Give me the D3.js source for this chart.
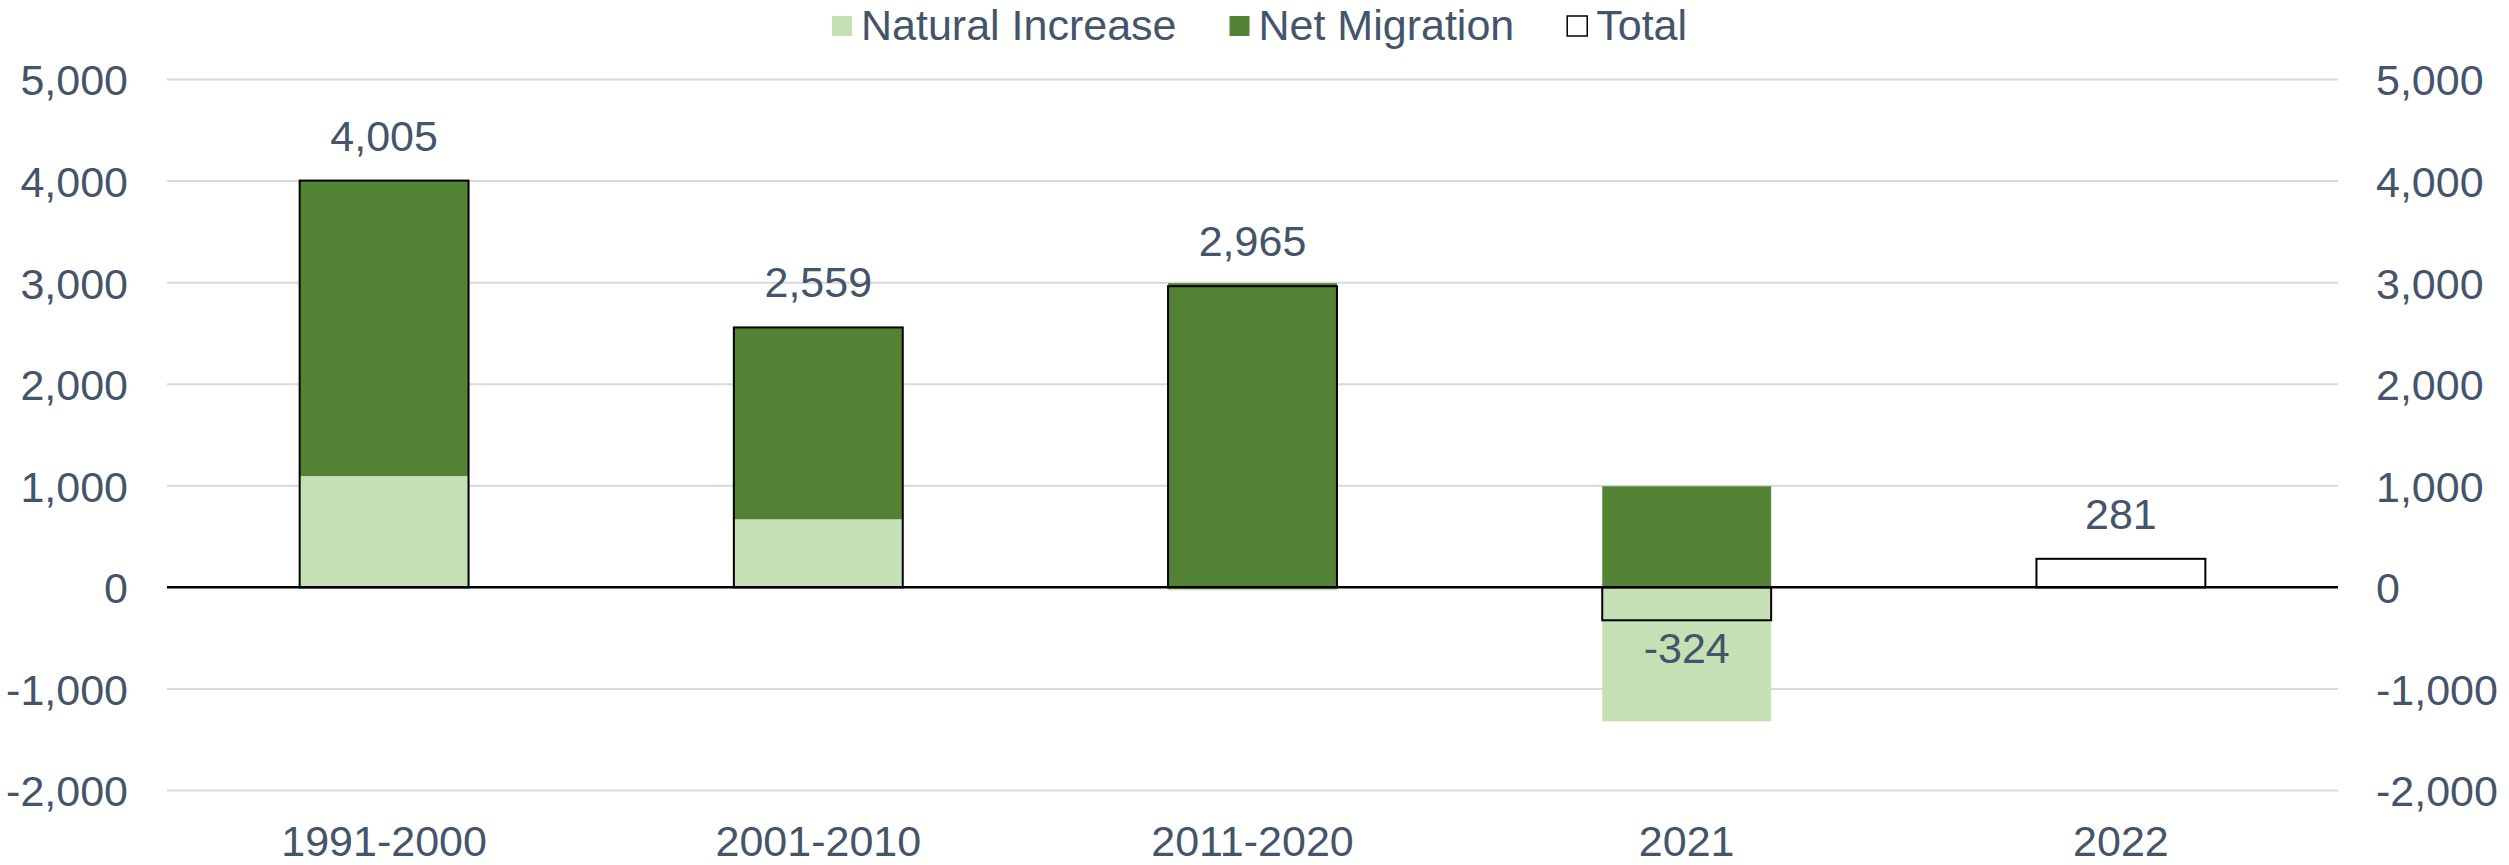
<!DOCTYPE html>
<html>
<head>
<meta charset="utf-8">
<script src="https://cdn.jsdelivr.net/npm/d3@7"></script>
<style>
  html, body { margin: 0; padding: 0; background: #fff; }
  svg { display: block; font-family: "Liberation Sans", Arial, sans-serif; }
</style>
</head>
<body>
<svg id="chart" width="2509" height="865"></svg>
<script>
// ---- data ----
const categories = ["1991-2000", "2001-2010", "2011-2020", "2021", "2022"];
const naturalIncrease = [1095, 670, -30, -1319, 0];
const netMigration = [2910, 1889, 2995, 995, 0];
const totals = [4005, 2559, 2965, -324, 281];
const yTicks = [-2000, -1000, 0, 1000, 2000, 3000, 4000, 5000];
const seriesNames = ["Natural Increase", "Net Migration", "Total"];

// ---- style ----
const W = 2509, H = 865;
const plotLeft = 167, plotRight = 2338, plotTop = 79.5, plotBottom = 790.5;
const textColor = "#44546A";
const colNI = "#C5E0B4", colNM = "#548235";
const fontSize = 43;

const svg = d3.select("#chart");

const x = d3.scaleBand().domain(categories).range([plotLeft, plotRight]).paddingInner(0.611).paddingOuter(0.3055);
const y = d3.scaleLinear().domain([-2000, 5000]).range([plotBottom, plotTop]);

// gridlines
svg.append("g").selectAll("line").data(yTicks.filter(d => d !== 0)).join("line")
  .attr("x1", plotLeft).attr("x2", plotRight)
  .attr("y1", d => y(d)).attr("y2", d => y(d))
  .attr("stroke", "#D9D9D9").attr("stroke-width", 2);

// stacked bars
const rows = categories.map((c, i) => ({ cat: c, ni: naturalIncrease[i], nm: netMigration[i] }));
const stack = d3.stack().keys(["ni", "nm"]).offset(d3.stackOffsetDiverging);
const stacked = stack(rows);
const colors = { ni: colNI, nm: colNM };
svg.append("g").selectAll("g").data(stacked).join("g")
  .attr("fill", d => colors[d.key])
  .selectAll("rect").data(d => d).join("rect")
  .attr("x", d => x(d.data.cat))
  .attr("width", x.bandwidth())
  .attr("y", d => y(Math.max(d[0], d[1])))
  .attr("height", d => Math.abs(y(d[0]) - y(d[1])));

// zero line
svg.append("line")
  .attr("x1", plotLeft).attr("x2", plotRight)
  .attr("y1", y(0)).attr("y2", y(0))
  .attr("stroke", "#000").attr("stroke-width", 2.5);

// total outline boxes
svg.append("g").selectAll("rect").data(totals).join("rect")
  .attr("x", (d, i) => x(categories[i]))
  .attr("width", x.bandwidth())
  .attr("y", d => y(Math.max(0, d)))
  .attr("height", d => Math.abs(y(d) - y(0)))
  .attr("fill", "none").attr("stroke", "#000").attr("stroke-width", 2);

// total labels
const fmt = d3.format(",");
svg.append("g").selectAll("text").data(totals).join("text")
  .attr("x", (d, i) => x(categories[i]) + x.bandwidth() / 2)
  .attr("y", d => d >= 0 ? y(d) - 30 : y(d) + 43)
  .attr("text-anchor", "middle")
  .attr("font-size", fontSize).attr("fill", textColor)
  .text(d => d < 0 ? "-" + fmt(-d) : fmt(d));

// left axis
const yAxisL = d3.axisLeft(y).tickValues(yTicks).tickSize(0).tickPadding(39).tickFormat(d => d < 0 ? "-" + fmt(-d) : fmt(d));
const gL = svg.append("g").attr("transform", `translate(${plotLeft},0)`).call(yAxisL);
gL.select(".domain").remove();
gL.selectAll("text").attr("font-size", fontSize).attr("fill", textColor).attr("font-family", "Liberation Sans, Arial, sans-serif").attr("dy", "0.36em");

// right axis
const yAxisR = d3.axisRight(y).tickValues(yTicks).tickSize(0).tickPadding(38).tickFormat(d => d < 0 ? "-" + fmt(-d) : fmt(d));
const gR = svg.append("g").attr("transform", `translate(${plotRight},0)`).call(yAxisR);
gR.select(".domain").remove();
gR.selectAll("text").attr("font-size", fontSize).attr("fill", textColor).attr("font-family", "Liberation Sans, Arial, sans-serif").attr("dy", "0.36em");

// category axis
const xAxis = d3.axisBottom(x).tickSize(0).tickPadding(0);
const gX = svg.append("g").attr("transform", `translate(0,${plotBottom})`).call(xAxis);
gX.select(".domain").remove();
gX.selectAll("text").attr("font-size", fontSize).attr("fill", textColor).attr("font-family", "Liberation Sans, Arial, sans-serif").attr("dy", null).attr("y", 65);

// legend
const legend = svg.append("g");
const legendItems = [
  { name: seriesNames[0], fill: colNI, stroke: "none" },
  { name: seriesNames[1], fill: colNM, stroke: "none" },
  { name: seriesNames[2], fill: "#fff", stroke: "#000" }
];
let lx = 832;
legendItems.forEach(it => {
  legend.append("rect").attr("x", lx).attr("y", 16).attr("width", 20).attr("height", 20)
    .attr("fill", it.fill).attr("stroke", it.stroke).attr("stroke-width", it.stroke === "none" ? 0 : 1.5);
  const t = legend.append("text").attr("x", lx + 29).attr("y", 40)
    .attr("font-size", fontSize).attr("fill", textColor).text(it.name);
  lx = lx + 29 + t.node().getComputedTextLength() + 53;
});
</script>
</body>
</html>
